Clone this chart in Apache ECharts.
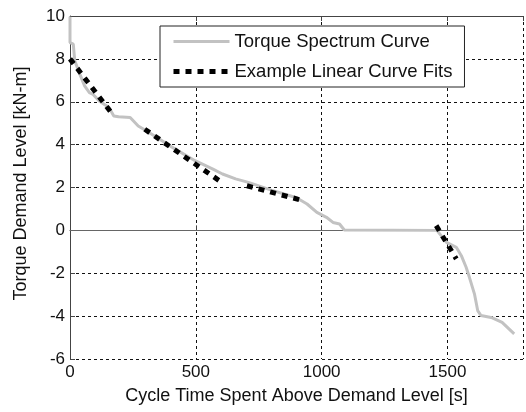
<!DOCTYPE html>
<html>
<head>
<meta charset="utf-8">
<script src="https://cdn.jsdelivr.net/npm/echarts@6/dist/echarts.min.js"></script>
<style>
  html, body { margin: 0; padding: 0; background: #fff; }
  #chart { width: 526px; height: 412px; }
</style>
</head>
<body>
<div id="chart"></div>
<script>
// Torque spectrum: time spent above each demand level
const spectrumTime = [0, 0, 13, 19, 39, 58, 77, 90, 116, 155, 174, 193, 239, 258, 271, 303, 400, 497, 568, 606, 658, 709, 800, 900, 942, 981, 1019, 1045, 1071, 1090, 1095, 1458, 1496, 1535, 1555, 1574, 1587, 1607, 1620, 1633, 1678, 1717, 1765];
const spectrumTorque = [9.97, 8.76, 8.69, 7.91, 7.29, 6.74, 6.43, 6.36, 6.04, 5.73, 5.34, 5.30, 5.27, 5.03, 4.87, 4.65, 3.92, 3.25, 2.86, 2.63, 2.40, 2.24, 1.88, 1.52, 1.23, 0.84, 0.61, 0.37, 0.30, 0.02, 0.0, 0.0, -0.56, -0.79, -1.18, -1.72, -2.19, -2.96, -3.74, -3.97, -4.08, -4.29, -4.83];

// Piecewise linear fits (start/end of each segment)
const fitStartTime = [0, 297, 703, 1455];
const fitStartTorque = [8.0, 4.72, 2.08, 0.22];
const fitEndTime = [174, 593, 929, 1535];
const fitEndTorque = [5.34, 2.32, 1.38, -1.33];

const xTicks = [0, 500, 1000, 1500];
const yTicks = [-6, -4, -2, 0, 2, 4, 6, 8, 10];

const spectrumData = spectrumTime.map((t, i) => [t, spectrumTorque[i]]);
const fitData = [];
fitStartTime.forEach((t, i) => {
  if (i > 0) fitData.push([null, null]);
  fitData.push([t, fitStartTorque[i]]);
  fitData.push([fitEndTime[i], fitEndTorque[i]]);
});

const FONT = "'Liberation Sans', Arial, sans-serif";
const chart = echarts.init(document.getElementById('chart'), null, { renderer: 'canvas' });

const axisLine = { show: true, lineStyle: { color: '#444', width: 1 } };
const gridDash = { show: true, lineStyle: { color: '#111', width: 1, type: [3, 3] } };
const spectrumLine = { color: '#c2c2c2', width: 3 };
const fitLine = { color: '#000', width: 5, type: [6, 6], cap: 'butt' };

chart.setOption({
  animation: false,
  backgroundColor: '#fff',
  grid: { left: 70, top: 16, width: 465, height: 343, containLabel: false },
  legend: {
    orient: 'vertical',
    left: 160,
    top: 26,
    itemWidth: 56,
    itemHeight: 14,
    itemGap: 11,
    padding: [6, 12, 6, 11],
    borderColor: '#222',
    borderWidth: 1,
    backgroundColor: '#fff',
    itemStyle: { opacity: 0 },
    textStyle: { fontFamily: FONT, fontSize: 18.5, color: '#111' },
    data: [
      { name: 'Torque Spectrum Curve', lineStyle: spectrumLine },
      { name: 'Example Linear Curve Fits', lineStyle: fitLine }
    ]
  },
  xAxis: [{
    type: 'value',
    min: 0, max: 1800, interval: 500,
    name: 'Cycle Time Spent Above Demand Level [s]',
    nameLocation: 'middle',
    nameGap: 28,
    nameTextStyle: { fontFamily: FONT, fontSize: 18, color: '#111' },
    axisLine: axisLine,
    axisTick: { show: true, inside: true, length: 5, lineStyle: { color: '#444' } },
    axisLabel: { fontFamily: FONT, fontSize: 17, color: '#111', margin: 5,
      formatter: v => xTicks.includes(v) ? String(v) : '' },
    splitLine: gridDash
  }, {
    type: 'value', position: 'top',
    min: 0, max: 1800, interval: 500,
    axisLine: axisLine,
    axisTick: { show: true, inside: true, length: 5, lineStyle: { color: '#444' } },
    axisLabel: { show: false },
    splitLine: { show: false }
  }],
  yAxis: {
    type: 'value',
    min: -6, max: 10, interval: 2,
    name: 'Torque Demand Level [kN-m]',
    nameLocation: 'middle',
    nameGap: 40,
    nameTextStyle: { fontFamily: FONT, fontSize: 18, color: '#111', padding: [0, 0, 0, 8] },
    axisLine: axisLine,
    axisTick: { show: true, inside: true, length: 5, lineStyle: { color: '#444' } },
    axisLabel: { fontFamily: FONT, fontSize: 17, color: '#111', margin: 5,
      formatter: v => yTicks.includes(v) ? String(v) : '' },
    splitLine: gridDash
  },
  series: [{
    name: 'Torque Spectrum Curve',
    type: 'line',
    data: spectrumData,
    symbol: 'none',
    lineStyle: spectrumLine,
    itemStyle: { color: '#c2c2c2' },
    z: 3,
    markLine: {
      silent: true,
      symbol: 'none',
      label: { show: false },
      lineStyle: { color: '#666', width: 1.2, type: 'solid' },
      data: [{ yAxis: 0 }],
      z: 2
    }
  }, {
    name: 'Example Linear Curve Fits',
    type: 'line',
    data: fitData,
    connectNulls: false,
    symbol: 'none',
    lineStyle: fitLine,
    itemStyle: { color: '#000' },
    z: 4
  }]
});
</script>
</body>
</html>
